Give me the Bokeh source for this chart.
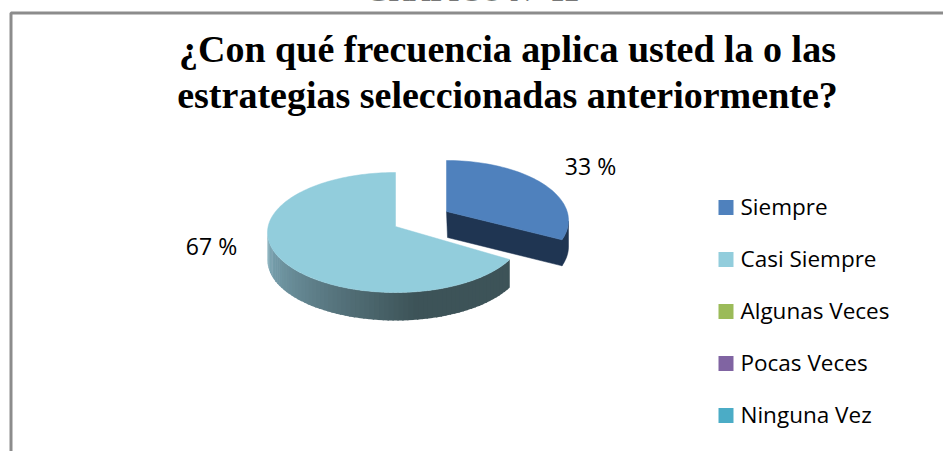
import math
from bokeh.plotting import figure
from bokeh.models import Range1d
from bokeh.core.properties import value
from bokeh.embed import file_html
from bokeh.resources import INLINE

heading = "GRÁFICO N° 12"
title_lines = ["¿Con qué frecuencia aplica usted la o las", "estrategias seleccionadas anteriormente?"]
categories = ["Siempre", "Casi Siempre", "Algunas Veces", "Pocas Veces", "Ninguna Vez"]
values = [33, 67, 0, 0, 0]
colors = ["#4F81BD", "#92CDDC", "#9BBB59", "#8064A2", "#4BACC6"]
labels = ["33 %", "67 %"]

W, H = 943, 451


def hex_mix(a, b, t):
    ca = [int(a[i:i + 2], 16) for i in (1, 3, 5)]
    cb = [int(b[i:i + 2], 16) for i in (1, 3, 5)]
    return "#%02x%02x%02x" % tuple(round(x + (y - x) * t) for x, y in zip(ca, cb))


p = figure(width=W, height=H, x_range=Range1d(0, W), y_range=Range1d(H, 0),
           output_backend="svg", toolbar_location=None, min_border=0,
           outline_line_color=None)
p.xaxis.visible = False
p.yaxis.visible = False
p.grid.visible = False

# chart frame
p.line([10.5, 10.5, 943], [451, 12.5, 12.5], line_color="#8c8c8c", line_width=3)

# clipped page heading
p.text([472], [-10], text=[heading], text_font=value("Liberation Serif"), text_font_style="bold",
       text_font_size="29px", text_color="#000000", text_align="center", text_baseline="alphabetic")

total = sum(values)
nominal = 2 * math.pi * values[0] / total


def pt(a, cx, cy, rx, ry):
    return cx + rx * math.sin(a), cy - ry * math.cos(a)


# Casi Siempre geometry (perspective narrows the visible angle a little)
L = (395, 232, 128, 60)
L_AY = 226
L_DEPTH = 28
l_end = nominal - math.radians(2)

# Casi Siempre: outer side wall with horizontal gradient
STEPS = 70
a0, a1 = l_end, math.pi * 1.5 + 0.02
for i in range(STEPS):
    s0 = a0 + (a1 - a0) * i / STEPS
    s1 = a0 + (a1 - a0) * (i + 1.3) / STEPS
    x0, y0 = pt(s0, *L)
    x1, y1 = pt(s1, *L)
    t = i / (STEPS - 1)
    if t < 0.35:
        col = "#3D5358"
    else:
        col = hex_mix("#3D5358", "#80ACBB", (t - 0.35) / 0.65)
    p.patch([x0, x1, x1, x0], [y0, y1, y1 + L_DEPTH, y0 + L_DEPTH], fill_color=col, line_color=None)

# Casi Siempre: top face
n = 160
angs = [l_end + (2 * math.pi - l_end) * i / n for i in range(n + 1)]
p.patch([L[0]] + [pt(a, *L)[0] for a in angs], [L_AY] + [pt(a, *L)[1] for a in angs],
        fill_color=colors[1], line_color=colors[1], line_width=0.5)

# Siempre: exploded slice
B = (446, 220, 122, 60)
B_AY = 211
B_DEPTH = 26
b_end = nominal - math.radians(10)
ex, ey = pt(b_end, *B)
p.patch([B[0], B[0] + 1, ex, ex], [B_AY, B_AY + B_DEPTH, ey + B_DEPTH, ey],
        fill_color="#1F3552", line_color="#1F3552", line_width=0.5)
angs_b = [b_end * i / 60 for i in range(61)]
rim = [a for a in angs_b if a >= math.pi / 2]
xr = [pt(a, *B)[0] for a in rim]
yr = [pt(a, *B)[1] for a in rim]
p.patch(xr + xr[::-1], yr + [y + B_DEPTH for y in yr[::-1]],
        fill_color="#1F3552", line_color="#1F3552", line_width=0.5)
p.patch([B[0]] + [pt(a, *B)[0] for a in angs_b], [B_AY] + [pt(a, *B)[1] for a in angs_b],
        fill_color=colors[0], line_color=colors[0], line_width=0.5)

# titles
for txt, y in zip(title_lines, [48, 94]):
    p.text([507], [y], text=[txt], text_font=value("Liberation Serif"), text_font_style="bold",
           text_font_size="38px", text_color="#000000", text_align="center", text_baseline="middle")

# data labels
p.text([590, 211], [165, 245], text=labels, text_font=value("Open Sans"), text_font_size="23px",
       text_color="#000000", text_align="center", text_baseline="middle")

# legend
leg_y = [207, 259, 311, 363, 415]
for c, col, y in zip(categories, colors, leg_y):
    p.quad(left=[718], right=[733], top=[y - 7.5], bottom=[y + 7.5], fill_color=col, line_color=None)
    p.text([740], [y - 1.5], text=[c], text_font=value("Open Sans"), text_font_size="22.5px",
           text_color="#000000", text_align="left", text_baseline="middle")

open("out.html", "w").write(file_html(p, INLINE))
